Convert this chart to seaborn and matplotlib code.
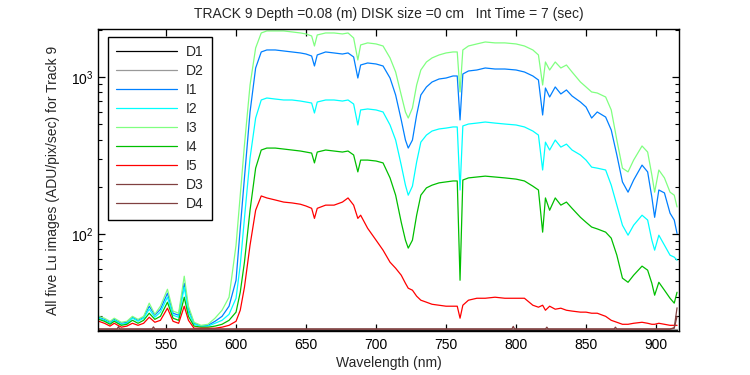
import numpy as np
import pandas as pd
import matplotlib
matplotlib.use("Agg")
import matplotlib.pyplot as plt
import seaborn as sns
from matplotlib.ticker import LogLocator, NullFormatter

# ---------------- data ----------------
wl = [502, 506, 510, 513, 518, 522, 526, 530, 534, 538, 542, 546, 551, 555, 559, 563, 566, 570, 575, 580,
      585, 590, 595, 600, 603, 606, 610, 614, 618, 622, 628, 634, 640, 646, 650, 654, 656, 658, 664, 670,
      676, 680, 684, 687, 689, 694, 700, 705, 710, 714, 718, 721, 723, 726, 729, 732, 736, 740, 745, 750,
      755, 758, 760, 762, 766, 772, 778, 785, 792, 800, 806, 812, 816, 819, 821, 824, 828, 832, 836, 840,
      846, 850, 854, 858, 864, 868, 872, 876, 880, 884, 890, 894, 897, 899, 902, 906, 910, 913, 915]

I1 = [29.6, 28.7, 27.5, 28.7, 27.1, 27.5, 29.6, 28.3, 29.6, 34.8, 30.5, 33.3, 42.1, 31.4, 30.5, 48.7, 33.3, 27.1, 26.0, 26.3,
      27.9, 30.0, 34.8, 50.9, 109, 228, 599, 1141, 1443, 1486, 1486, 1464, 1443, 1422, 1400, 1360, 1175, 1381, 1443, 1422,
      1400, 1422, 1341, 985, 1192, 1228, 1210, 1175, 985, 768, 533, 397, 353, 397, 573, 768, 864, 929, 971, 985,
      1015, 1015, 533, 1045, 1092, 1108, 1141, 1124, 1124, 1108, 1076, 1015, 957, 573, 851, 746, 864, 780, 827, 757,
      693, 644, 548, 599, 556, 460, 319, 215, 185, 221, 275, 249, 172, 128, 191, 183, 136, 123, 101]

I2 = [29.2, 28.3, 27.1, 28.3, 26.7, 27.1, 29.2, 27.9, 29.2, 33.3, 29.6, 31.9, 39.7, 30.5, 29.6, 45.9, 31.9, 26.7, 26.0, 26.0,
      27.1, 28.3, 30.9, 39.1, 63.5, 126, 305, 548, 714, 735, 724, 714, 714, 703, 693, 683, 590, 693, 714, 714,
      703, 714, 673, 495, 617, 626, 617, 599, 495, 397, 275, 205, 177, 202, 288, 385, 427, 453, 467, 473,
      481, 481, 191, 488, 502, 509, 517, 509, 502, 495, 481, 453, 427, 256, 385, 343, 397, 358, 374, 343,
      319, 296, 267, 263, 256, 205, 153, 114, 98.5, 114, 132, 123, 91.6, 79.1, 98.5, 85.1, 73.5, 71.4, 68.3]

I3 = [30.0, 29.2, 27.9, 29.2, 27.5, 27.9, 30.0, 28.7, 30.0, 36.4, 30.9, 34.8, 44.6, 32.4, 31.4, 54.0, 34.8, 27.5, 26.3, 26.7,
      29.2, 32.8, 39.7, 85.1, 177, 369, 889, 1530, 1906, 1963, 1963, 1963, 1935, 1906, 1879, 1824, 1575, 1851, 1906, 1906,
      1879, 1906, 1771, 1283, 1599, 1648, 1623, 1575, 1322, 1076, 768, 599, 548, 635, 889, 1108, 1246, 1322, 1381, 1422,
      1443, 1443, 803, 1486, 1575, 1623, 1670, 1648, 1648, 1623, 1575, 1486, 1381, 889, 1246, 1108, 1246, 1141, 1192, 1076,
      929, 864, 803, 791, 746, 617, 397, 263, 249, 296, 364, 333, 238, 185, 256, 228, 185, 177, 149]

I4 = [28.7, 27.9, 26.7, 27.9, 26.3, 26.7, 28.3, 27.1, 28.3, 31.4, 28.7, 30.0, 36.9, 29.2, 28.3, 39.7, 30.0, 26.0, 25.6, 25.6,
      26.0, 26.7, 28.3, 31.9, 42.7, 66.3, 142, 263, 343, 353, 353, 348, 343, 338, 333, 328, 284, 333, 343, 338,
      333, 338, 319, 249, 296, 296, 292, 284, 228, 177, 119, 91.6, 81.5, 91.6, 132, 177, 197, 205, 212, 215,
      218, 218, 50.9, 221, 228, 231, 234, 231, 228, 224, 218, 202, 191, 103, 170, 142, 170, 153, 160, 146,
      128, 119, 111, 108, 103, 94.3, 73.5, 52.5, 49.4, 54.8, 62.6, 59.0, 48.7, 40.9, 49.4, 44.0, 39.1, 36.4, 42.7]

I5 = [27.9, 27.1, 26.0, 27.1, 25.6, 26.0, 27.1, 26.3, 27.1, 29.6, 27.5, 28.3, 33.8, 27.9, 27.1, 34.8, 28.3, 25.2, 25.2, 25.2,
      25.2, 25.6, 26.3, 27.9, 32.8, 45.9, 85.1, 142, 175, 170, 165, 160, 158, 155, 151, 146, 126, 146, 153, 153,
      160, 170, 153, 126, 132, 109, 91.6, 79.1, 66.3, 60.7, 54.8, 48.7, 45.3, 44.0, 40.3, 38.0, 36.9, 35.8, 35.3, 34.8,
      34.8, 34.8, 29.2, 35.3, 38.0, 39.1, 39.1, 39.7, 39.1, 39.1, 39.1, 35.3, 34.3, 35.3, 32.8, 34.8, 33.3, 33.8, 32.8, 32.4,
      31.9, 31.9, 31.4, 31.4, 30.0, 28.3, 27.5, 26.7, 26.7, 27.1, 27.5, 27.1, 26.7, 26.7, 27.1, 26.7, 26.3, 26.3, 26.3]

dark_wl = [502, 515, 516, 517, 540, 541, 542, 600, 650, 700, 750, 797, 798, 799, 821, 822, 823, 850, 870, 871, 872, 900, 910, 913, 915]
D1 = [24.7] * 25
D2 = [24.75] * 25
D3 = [24.9, 24.9, 25.8, 24.9, 24.9, 25.7, 24.9, 24.9, 24.9, 24.9, 24.9, 24.9, 25.9, 24.9, 24.9, 25.6, 24.9, 24.9, 24.9, 25.6, 24.9, 24.9, 24.9, 25.4, 34.0]
D4 = [24.9, 24.9, 24.9, 24.9, 24.9, 24.9, 24.9, 24.9, 24.9, 24.9, 24.9, 24.9, 24.9, 24.9, 24.9, 24.9, 24.9, 24.9, 24.9, 24.9, 24.9, 24.9, 24.9, 25.2, 30.0]

series_order = ["D1", "D2", "I1", "I2", "I3", "I4", "I5", "D3", "D4"]
colors = {"D1": "#000000", "D2": "#999999", "I1": "#0080ff", "I2": "#00ffff", "I3": "#80ff80",
          "I4": "#00bf00", "I5": "#ff0000", "D3": "#804040", "D4": "#804040"}

title = "TRACK 9 Depth =0.08 (m) DISK size =0 cm   Int Time = 7 (sec)"
xlabel = "Wavelength (nm)"
ylabel = "All five Lu images (ADU/pix/sec) for Track 9"

# ---------------- build long table ----------------
vals = {"I1": I1, "I2": I2, "I3": I3, "I4": I4, "I5": I5, "D1": D1, "D2": D2, "D3": D3, "D4": D4}
frames = []
for name in series_order:
    x = dark_wl if name.startswith("D") else wl
    frames.append(pd.DataFrame({"wl": x, "val": vals[name], "series": name}))
df = pd.concat(frames, ignore_index=True)

# ---------------- plot ----------------
sns.set_style("ticks")
plt.rcParams["font.family"] = ["Liberation Sans", "DejaVu Sans"]
plt.rcParams["mathtext.fontset"] = "custom"
plt.rcParams["mathtext.rm"] = "Liberation Sans"
plt.rcParams["mathtext.it"] = "Liberation Sans:italic"
plt.rcParams["mathtext.bf"] = "Liberation Sans:bold"

fig = plt.figure(figsize=(7.5, 3.75), dpi=100)
ax = fig.add_axes([98 / 750, 44 / 375, 581 / 750, 302 / 375])

for name in series_order:
    sub = df[df["series"] == name]
    sns.lineplot(data=sub, x="wl", y="val", color=colors[name], label=name, ax=ax,
                 estimator=None, sort=False, linewidth=0.9)

ax.set_yscale("log")
ax.set_xlim(501.4, 916.4)
ax.set_ylim(24.2, 2020)
ax.set_xticks([550, 600, 650, 700, 750, 800, 850, 900])
ax.yaxis.set_major_locator(LogLocator(base=10))
ax.yaxis.set_minor_locator(LogLocator(base=10, subs=np.arange(2, 10)))
ax.yaxis.set_minor_formatter(NullFormatter())

ax.tick_params(axis="both", which="both", direction="in", top=True, right=True, colors="black",
               labelsize=10, pad=5)
ax.tick_params(axis="both", which="major", length=5, width=0.9)
ax.tick_params(axis="both", which="minor", length=3, width=0.8)
ax.tick_params(axis="y", which="major", pad=3)
for s in ax.spines.values():
    s.set_color("black")
    s.set_linewidth(1.0)

ax.set_title(title, fontsize=10, pad=8)
ax.set_xlabel(xlabel, fontsize=10, labelpad=3)
ax.set_ylabel(ylabel, fontsize=10, labelpad=8)

leg = ax.legend(loc="upper left", bbox_to_anchor=(0.0172, 0.9735), borderaxespad=0,
                fontsize=10, frameon=True, fancybox=False, handlelength=4.4,
                handletextpad=0.6, labelspacing=0.36, borderpad=0.6)
leg.get_frame().set_edgecolor("black")
leg.get_frame().set_linewidth(1.0)
leg.get_frame().set_alpha(1)

fig.savefig("out.png", dpi=100)
